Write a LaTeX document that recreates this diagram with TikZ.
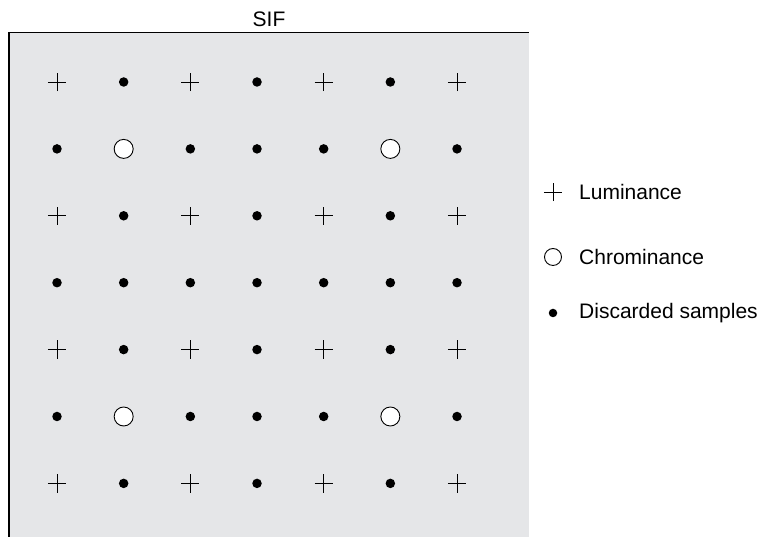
\documentclass[tikz,border=0pt]{standalone}
\usepackage{fontspec}
\setmainfont{Liberation Sans}
\usetikzlibrary{shapes.misc,positioning}

\definecolor{sifgray}{RGB}{229,230,232}

\tikzset{
	luma/.style={cross out, draw, rotate=45, minimum size=12pt, inner sep=0pt, line width=0.9pt},
	chroma/.style={circle, draw, fill=white, minimum size=19pt, inner sep=0pt, line width=0.9pt},
	discard/.style={circle, fill, minimum size=9.5pt, inner sep=0pt},
	legend/.style={right=26pt of #1.center, anchor=west, inner sep=0pt, font=\fontsize{21}{25}\selectfont}
}

\begin{document}
\begin{tikzpicture}[x=1pt, y=1pt]

\useasboundingbox (0,0) rectangle (761,537);

% sampling field
\fill [sifgray] (9,0) rectangle (529,504.5);
\draw [line width=1.2pt] (9,0) -- (9,504.5) -- (529,504.5);
\node [anchor=base, inner sep=0pt, font=\fontsize{21}{25}\selectfont] (title) at (269,510) {SIF};

\foreach \j in {0,...,6} {
	\foreach \i in {0,...,6} {
	\def\xx{(57+66.67*\i)}
	\def\yy{(455-66.9*\j)}

	\pgfmathtruncatemacro{\kind}{mod(\j,2)==0 ? (mod(\i,2)==0 ? 1 : 0) : ((\j!=3 && (\i==1 || \i==5)) ? 2 : 0)}

	\ifcase\kind
		\node [discard] (s-\i-\j) at ({\xx},{\yy}) {};
	\or
		\node [luma] (s-\i-\j) at ({\xx},{\yy}) {};
	\or
		\node [chroma] (s-\i-\j) at ({\xx},{\yy}) {};
	\fi
	}
}

% legend
\node [luma] (keyluma) at (553,345) {};
\node [legend=keyluma] (txtluma) {Luminance};

\node [chroma, minimum size=17pt] (keychroma) at (553,280) {};
\node [legend=keychroma] (txtchroma) {Chrominance};

\node [discard, minimum size=8.5pt] (keydiscard) at (553,224) {};
\node [legend=keydiscard] (txtdiscard) {Discarded samples};

\end{tikzpicture}
\end{document}
